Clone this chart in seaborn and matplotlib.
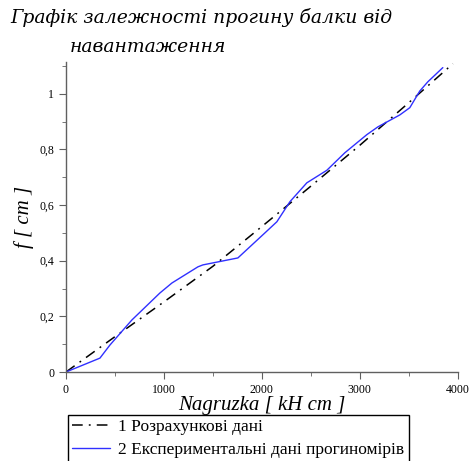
import numpy as np
import pandas as pd
import matplotlib
matplotlib.use("Agg")
import matplotlib.pyplot as plt
import seaborn as sns
from matplotlib.ticker import MultipleLocator, FuncFormatter

# calculated deflection
calc_x = [0, 500, 1000, 1500, 2000, 2500, 3000, 3500, 3950]
calc_f = [0, 0.127, 0.252, 0.380, 0.523, 0.668, 0.815, 0.968, 1.108]

# measured deflection (dial gauges)
exp_x = [0, 347, 449, 673, 959, 1082, 1347, 1398, 1755, 2031, 2153, 2286, 2459, 2663,
         2847, 3071, 3184, 3408, 3510, 3612, 3694, 3847]
exp_f = [0, 0.050, 0.097, 0.187, 0.284, 0.320, 0.378, 0.385, 0.410, 0.500, 0.540, 0.612, 0.680, 0.725,
         0.788, 0.853, 0.881, 0.924, 0.950, 1.010, 1.043, 1.094]

sns.set_style("ticks")
plt.rcParams['font.family'] = ['Liberation Serif', 'DejaVu Serif']
plt.rcParams['text.color'] = 'black'
plt.rcParams['axes.labelcolor'] = 'black'

fig = plt.figure(figsize=(4.71, 4.61), dpi=100)
ax = fig.add_axes([0.140, 0.193, 0.832, 0.673])

sns.lineplot(x=calc_x, y=calc_f, ax=ax, color='black', lw=1.1,
             dashes=False, label='1 Розрахункові дані')
sns.lineplot(x=exp_x, y=exp_f, ax=ax, color='#3030ff', lw=1,
             label='2 Експериментальні дані прогиномірів')
ax.lines[0].set_dashes((7, 4, 1.2, 4))

ax.set_xlim(0, 4000)
ax.set_ylim(0, 1.115)
ax.xaxis.set_major_locator(MultipleLocator(1000))
ax.xaxis.set_minor_locator(MultipleLocator(500))
ax.yaxis.set_major_locator(MultipleLocator(0.2))
ax.yaxis.set_minor_locator(MultipleLocator(0.1))
ax.yaxis.set_major_formatter(FuncFormatter(lambda v, p: ('%g' % round(v, 2)).replace('.', ',')))

for s in ['top', 'right']:
    ax.spines[s].set_visible(False)
for s in ['left', 'bottom']:
    ax.spines[s].set_color('#606060')
    ax.spines[s].set_linewidth(1)
ax.tick_params(which='both', direction='out', colors='#606060', labelcolor='black', labelsize=8.5)
ax.tick_params(which='major', length=5)
ax.tick_params(which='minor', length=3)

ax.set_xlabel('Nagruzka [ kH cm ]', fontsize=15, style='italic', labelpad=0)
ax.set_ylabel('f [ cm ]', fontsize=15, style='italic', labelpad=4)

fig.text(0.021, 0.962, 'Графік залежності прогину балки від', fontsize=13.5,
         family=['DejaVu Serif'], style='italic', va='center')
fig.text(0.148, 0.897, 'навантаження', fontsize=13.5,
         family=['DejaVu Serif'], style='italic', va='center')

leg = ax.legend(loc='upper left', bbox_to_anchor=(0.144, 0.1), bbox_transform=fig.transFigure,
                fontsize=12.5, frameon=True, fancybox=False, borderpad=0.25, labelspacing=0.35,
                handlelength=2.2, handletextpad=0.45, borderaxespad=0)
leg.get_frame().set_edgecolor('black')
leg.get_frame().set_linewidth(1)
leg.get_frame().set_alpha(1)

fig.savefig('out.png', dpi=100)
